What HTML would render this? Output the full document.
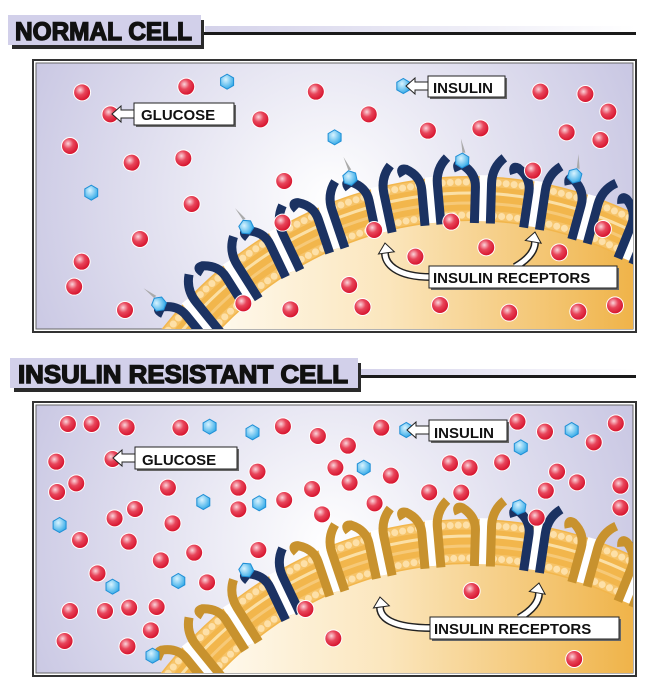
<!DOCTYPE html>
<html><head><meta charset="utf-8">
<style>
html,body{margin:0;padding:0;background:#fff;width:649px;height:692px;overflow:hidden;}
svg{display:block;}
.hd{font-family:"Liberation Sans",sans-serif;font-weight:bold;font-size:25px;fill:#111;stroke:#111;stroke-width:1.4px;}
.lb{font-family:"Liberation Sans",sans-serif;font-weight:bold;font-size:15px;fill:#111;}
</style></head>
<body>
<svg id="s" width="649" height="692" viewBox="0 0 649 692" xmlns="http://www.w3.org/2000/svg">
<defs>
<radialGradient id="bg" cx="330" cy="200" r="330" gradientUnits="userSpaceOnUse">
<stop offset="0" stop-color="#ffffff"/><stop offset="1" stop-color="#c9c7e3"/></radialGradient>
<radialGradient id="bg2" cx="330" cy="543" r="330" gradientUnits="userSpaceOnUse">
<stop offset="0" stop-color="#ffffff"/><stop offset="1" stop-color="#c9c7e3"/></radialGradient>
<linearGradient id="cellg" x1="180" y1="0" x2="640" y2="0" gradientUnits="userSpaceOnUse">
<stop offset="0" stop-color="#fffdf7"/><stop offset="0.45" stop-color="#fbe6bd"/><stop offset="1" stop-color="#efb246"/></linearGradient>
<radialGradient id="rg" cx="0.38" cy="0.35" r="0.7"><stop offset="0" stop-color="#fbd6dc"/><stop offset="0.45" stop-color="#e8455a"/><stop offset="1" stop-color="#d5102a"/></radialGradient>
<radialGradient id="bgl" cx="0.4" cy="0.35" r="0.7"><stop offset="0" stop-color="#d8f3ff"/><stop offset="1" stop-color="#2aa6e6"/></radialGradient>
<clipPath id="c1"><rect x="36" y="63" width="597" height="266"/></clipPath>
<clipPath id="c2"><rect x="36" y="405" width="597" height="268"/></clipPath>
<linearGradient id="hl" x1="0" y1="0" x2="1" y2="0"><stop offset="0" stop-color="#d4d2ea"/><stop offset="1" stop-color="#ffffff"/></linearGradient>
</defs>

<g>
<rect x="205" y="26" width="431" height="6" fill="url(#hl)"/>
<rect x="200" y="32" width="436" height="3" fill="#1a1a1a"/>
<rect x="12" y="20" width="192" height="29" fill="#2a2a2a"/>
<rect x="8" y="15" width="193" height="30" fill="#d2d0ea"/>
<text class="hd" x="15" y="40" textLength="177" lengthAdjust="spacingAndGlyphs">NORMAL CELL</text>
</g>
<g>
<rect x="360" y="369" width="276" height="6" fill="url(#hl)"/>
<rect x="355" y="375" width="281" height="3" fill="#1a1a1a"/>
<rect x="14" y="363" width="347" height="29" fill="#2a2a2a"/>
<rect x="10" y="358" width="348" height="30" fill="#d2d0ea"/>
<text class="hd" x="18" y="383" textLength="330" lengthAdjust="spacingAndGlyphs">INSULIN RESISTANT CELL</text>
</g>

<rect x="33" y="60" width="603" height="272" fill="#fff" stroke="#333" stroke-width="2"/>
<rect x="36" y="63" width="597" height="266" fill="url(#bg)" stroke="#666" stroke-width="1"/>
<rect x="33" y="402" width="603" height="274" fill="#fff" stroke="#333" stroke-width="2"/>
<rect x="36" y="405" width="597" height="268" fill="url(#bg2)" stroke="#666" stroke-width="1"/>

<g id="p1" clip-path="url(#c1)"></g>
<g id="p2" clip-path="url(#c2)"></g>

<g id="lab1"></g>
<g id="lab2"></g>
<g id="txt1">
<text class="lb" x="141" y="120">GLUCOSE</text>
<text class="lb" x="433" y="93">INSULIN</text>
<text class="lb" x="433" y="283">INSULIN RECEPTORS</text>
</g>
<g id="txt2">
<text class="lb" x="142" y="465">GLUCOSE</text>
<text class="lb" x="434" y="438">INSULIN</text>
<text class="lb" x="434" y="634">INSULIN RECEPTORS</text>
</g>
</svg>
<script>
var NS="http://www.w3.org/2000/svg";
function el(p,t,a){var e=document.createElementNS(NS,t);for(var k in a)e.setAttribute(k,a[k]);p.appendChild(e);return e;}
function cell(g,oy){
  var cx=470,cy=600+oy;
  el(g,"ellipse",{cx:cx,cy:cy,rx:401,ry:424,fill:"#f2b64c"});
  [396,386,376,366].forEach(function(r,i){el(g,"ellipse",{cx:cx,cy:cy,rx:r-12,ry:r+11,fill:"none",stroke:(i%2?"#f6c978":"#fbe0a6"),"stroke-width":3});});
  el(g,"ellipse",{cx:cx,cy:cy,rx:395,ry:418,fill:"none",stroke:"#f6c46a","stroke-width":9});
  el(g,"ellipse",{cx:cx,cy:cy,rx:395,ry:418,fill:"none",stroke:"#fde0a8","stroke-width":7,"stroke-dasharray":"0 8","stroke-linecap":"round"});
  el(g,"ellipse",{cx:cx,cy:cy,rx:362,ry:385,fill:"none",stroke:"#f6c46a","stroke-width":9});
  el(g,"ellipse",{cx:cx,cy:cy,rx:362,ry:385,fill:"none",stroke:"#fde0a8","stroke-width":7,"stroke-dasharray":"0 8","stroke-linecap":"round"});
  el(g,"ellipse",{cx:cx,cy:cy,rx:356,ry:379,fill:"url(#cellg)"});
  return [cx,cy];
}
function pt(c,rx,ry,deg){var a=deg*Math.PI/180;return [c[0]+rx*Math.sin(a),c[1]-ry*Math.cos(a)];}
function receptor(g,c,deg,col){
  var p=pt(c,356,379,deg);
  var r=el(g,"g",{transform:"translate("+p[0]+","+p[1]+") rotate("+deg*0.85+")"});
  el(r,"rect",{x:-4,y:-46,width:8,height:46,fill:"#fff"});
  el(r,"path",{d:"M-8,2 L-8,-34 Q-8,-48 -22,-56 Q-29,-58 -25,-50",fill:"none",stroke:col,"stroke-width":9});
  el(r,"path",{d:"M8,2 L8,-38 Q8,-54 20,-64",fill:"none",stroke:col,"stroke-width":9});
  return r;
}
function glu(g,x,y){el(g,"circle",{cx:x,cy:y,r:9,fill:"#fff"});el(g,"circle",{cx:x,cy:y,r:8,fill:"url(#rg)"});}
function hex(g,x,y){var d="";for(var i=0;i<6;i++){var a=Math.PI/3*i+Math.PI/6;d+=(i?"L":"M")+(x+7.5*Math.cos(a)).toFixed(1)+","+(y+7.5*Math.sin(a)).toFixed(1);}
  el(g,"path",{d:d+"Z",fill:"url(#bgl)",stroke:"#1f8fd6","stroke-width":1});}
var sx=1/2.4,sy=1/3;
var g1=document.getElementById("p1");
var c1=cell(g1,0);
var angs=[-46,-38,-30,-22,-14,-6,2,10,18,26];
angs.forEach(function(a,i){var r=receptor(g1,c1,a,"#1b3262");if(i%2==0){hex(r,-22,-60);el(r,"path",{d:"M-22,-68 L-24,-82 L-19,-68Z",fill:"#aaa"});}});
var red1=[[447,260],[758,275],[1297,275],[1405,282],[1460,335],[625,358],[885,343],[1027,392],[1153,385],[1360,397],[1441,420],[197,277],[168,438],[316,488],[440,475],[682,543],[460,612],[336,717],[196,785],[178,860],[300,930],[697,928],[870,921],[1056,915],[1222,938],[1388,935],[1476,916],[838,855],[997,770],[1167,742],[1342,757],[678,668],[898,690],[1083,665],[1279,512],[1447,687],[584,910],[265,343]];
red1.forEach(function(p){glu(g1,p[0]*sx,p[1]*sy);});
[[545,245],[803,412],[219,578],[968,258]].forEach(function(p){hex(g1,p[0]*sx,p[1]*sy);});
var g2=document.getElementById("p2");
var c2=cell(g2,343);
angs.forEach(function(a,i){var blue=(i==2||i==7);var r=receptor(g2,c2,a,blue?"#1b3262":"#c8922e");if(blue)hex(r,-22,-60);});
var red2=[[163,237],[220,237],[304,247],[433,248],[679,244],[763,273],[835,302],[915,248],[1242,230],[1308,260],[1425,292],[1478,235],[135,350],[270,342],[618,380],[805,368],[938,392],[1080,355],[1127,368],[1205,352],[1337,380],[1385,412],[1489,422],[1489,488],[183,415],[137,441],[403,428],[572,428],[749,432],[839,413],[1030,442],[1107,443],[1310,437],[324,492],[275,520],[572,493],[682,465],[899,475],[773,508],[414,535],[192,585],[309,590],[620,615],[466,623],[386,646],[234,685],[497,712],[168,798],[252,798],[310,788],[376,786],[362,856],[155,888],[306,904],[733,792],[800,880],[1132,738],[1378,942],[1288,518]];
red2.forEach(function(p){glu(g2,p[0]*sx,345+p[1]*sy);});
[[503,245],[606,262],[1372,255],[1250,307],[873,368],[488,471],[622,475],[143,540],[270,725],[428,708],[366,932],[975,255]].forEach(function(p){hex(g2,p[0]*sx,345+p[1]*sy);});
function box(g,x,y,w,h){el(g,"rect",{x:x+2,y:y+2,width:w,height:h,fill:"#666"});el(g,"rect",{x:x,y:y,width:w,height:h,fill:"#fff",stroke:"#222","stroke-width":1});}
function ptr(g,x1,x2,y){
  el(g,"path",{d:"M"+x1+","+(y-4)+" L"+(x2+9)+","+(y-4)+" L"+(x2+9)+","+(y-8)+" L"+x2+","+y+" L"+(x2+9)+","+(y+8)+" L"+(x2+9)+","+(y+4)+" L"+x1+","+(y+4),fill:"#fff",stroke:"#222","stroke-width":1});}
function curv(g,d,tip,ang){el(g,"path",{d:d,fill:"none",stroke:"#222","stroke-width":8});el(g,"path",{d:d,fill:"none",stroke:"#fff","stroke-width":5});
  el(g,"path",{d:"M0,0 L-8,10 L8,10Z",fill:"#fff",stroke:"#222","stroke-width":1,transform:"translate("+tip[0]+","+tip[1]+") rotate("+ang+")"});}
function labels(g,gx,gb,ix,ib,rb,a1,a2){
  ptr(g,gb[0]+1,gx,gb[1]+11);box(g,gb[0],gb[1],gb[2],22);
  ptr(g,ib[0]+1,ix,ib[1]+10);box(g,ib[0],ib[1],ib[2],21);
  curv(g,"M"+(rb[0]+2)+","+(rb[1]+11)+" C"+(a1[0]+10)+","+(rb[1]+11)+" "+a1[0]+","+(a1[1]+20)+" "+a1[0]+","+(a1[1]+10),a1,-8);
  curv(g,"M"+(a2[0]-20)+","+(rb[1]+1)+" C"+(a2[0]-8)+","+(rb[1]-6)+" "+a2[0]+","+(a2[1]+20)+" "+a2[0]+","+(a2[1]+10),a2,10);
  box(g,rb[0],rb[1],rb[2],22);
}
labels(document.getElementById("lab1"),112,[134,103,100],406,[428,76,77],[429,266,188],[385,243],[535,232]);
labels(document.getElementById("lab2"),113,[135,447,102],407,[429,420,78],[430,617,189],[380,597],[539,583]);
</script>
</body></html>
